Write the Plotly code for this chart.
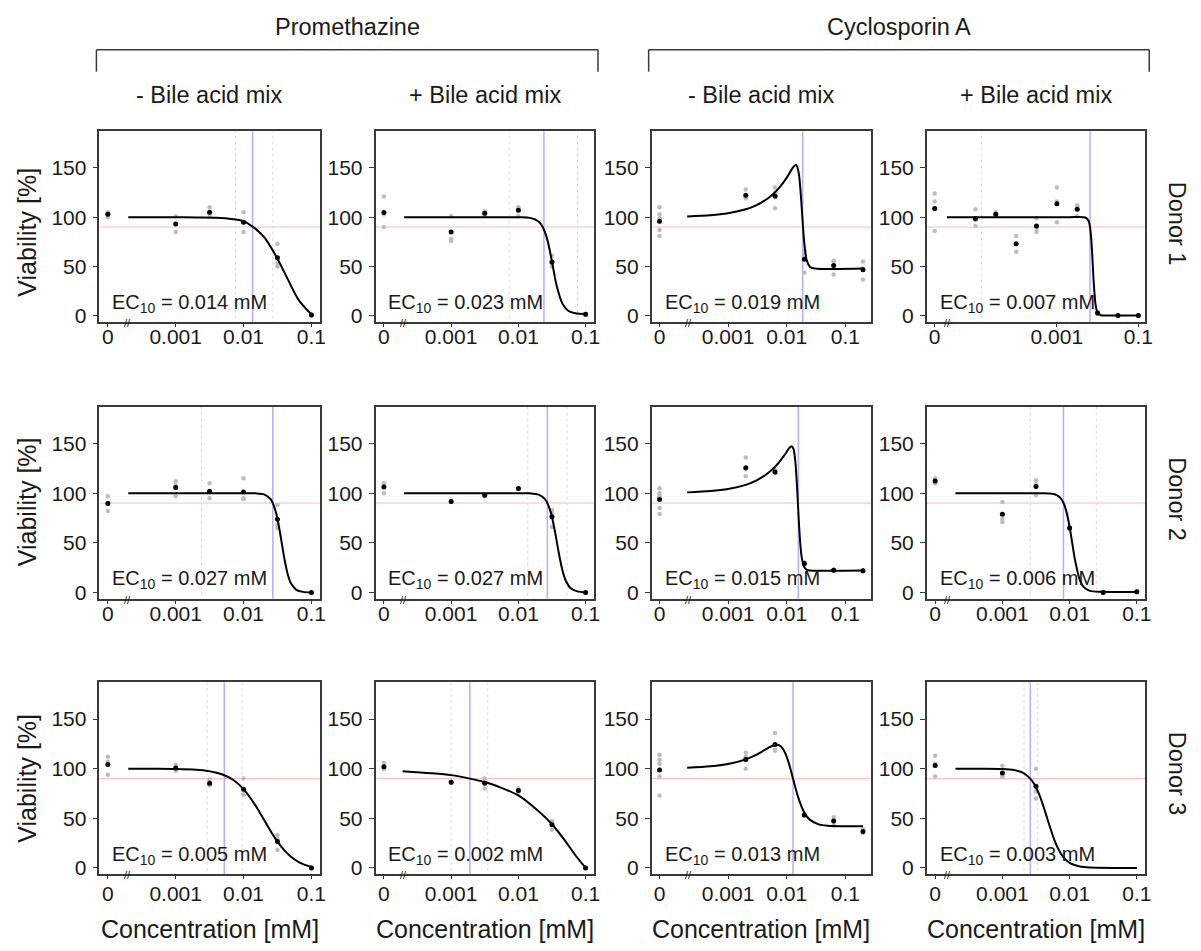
import plotly.graph_objects as go

# the page body adds an 8px margin on every side, so the figure is drawn
# 16px smaller than the window and every target position is shifted by 8px
OFF = 8
W, H = 1201 - 2 * OFF, 951 - 2 * OFF
FONT = "Liberation Sans, Arial, sans-serif"

# ---------------- text ----------------
drugs = ["Promethazine", "Cyclosporin A"]
conditions = ["- Bile acid mix", "+ Bile acid mix", "- Bile acid mix", "+ Bile acid mix"]
donors = ["Donor 1", "Donor 2", "Donor 3"]
y_title = "Viability [%]"
x_title = "Concentration [mM]"
threshold = 90
y_ticks = [0, 50, 100, 150]

# ---------------- Donor 1 ----------------
p11_conc = [0, 0.001, 0.00316, 0.01, 0.0316, 0.1]
p11_mean = [103, 93, 105, 95, 59, 1]
p11_reps = [[105, 100, 104], [101, 85, 93], [110, 104, 101], [105, 85, 95], [73, 53, 50], [1, 0.5, 1.5]]
p11_curve_x = [0.0002, 0.001, 0.002, 0.004, 0.007, 0.01, 0.0136, 0.02, 0.0316, 0.045, 0.065, 0.1]
p11_curve_y = [100, 100, 99.8, 99.5, 98, 96, 90.5, 80, 58, 37, 16, 1.5]
p11_ec10, p11_ci, p11_label = 0.0136, [0.0076, 0.027], "0.014"

p12_conc = [0, 0.001, 0.00316, 0.01, 0.0316, 0.1]
p12_mean = [104.7, 85, 104, 107, 54.7, 1.7]
p12_reps = [[121, 90, 103], [101, 78, 76], [106, 102, 104], [110, 101, 109], [61, 53, 50], [2, 1, 2]]
p12_curve_x = [0.0002, 0.005, 0.01, 0.015, 0.02, 0.023, 0.027, 0.0316, 0.037, 0.045, 0.055, 0.07, 0.1]
p12_curve_y = [100, 100, 99.9, 99.3, 95.7, 90, 77, 55, 31, 12.7, 5.2, 2.7, 2]
p12_ec10, p12_ci, p12_label = 0.024, [0.0073, 0.076], "0.023"

p13_conc = [0, 0.002, 0.00632, 0.02, 0.0632, 0.2]
p13_mean = [96, 122.3, 121.3, 57.3, 51, 46.7]
p13_reps = [[110, 103, 99, 87, 81, 96], [128, 120, 119], [130, 125, 109], [66, 62, 44], [56, 55, 42], [55, 48, 37]]
p13_curve_x = [0.0002, 0.0005, 0.001, 0.002, 0.003, 0.005, 0.007, 0.009, 0.011, 0.013, 0.0145,
               0.016, 0.017, 0.018, 0.019, 0.02, 0.022, 0.025, 0.03, 0.2]
p13_curve_y = [100.8, 102, 104, 108, 112, 120, 128, 136, 144, 151, 153,
               145, 130.5, 110, 89, 73, 56, 49.6, 48.1, 48]
p13_ec10, p13_ci, p13_label = 0.0187, [], "0.019"

p14_conc = [0, 1e-5, 3.16e-5, 1e-4, 3.16e-4, 1e-3, 3.16e-3, 0.01, 0.0316, 0.1]
p14_mean = [108.7, 98.8, 103, 73, 91, 113.7, 108, 3, 0.3, 0.3]
p14_reps = [[124, 116, 86], [108, 91, 97], [105, 102, 102], [81, 65, 73], [99, 85, 89],
            [130, 116, 95], [111, 101, 112], [4, 2, 3], [0, 0.5, 0.5], [0, 0.5, 0.5]]
p14_curve_x = [2e-6, 1e-4, 0.002, 0.005, 0.006, 0.0065, 0.007, 0.0075, 0.008, 0.009, 0.01, 0.012, 0.02, 0.1]
p14_curve_y = [100, 100, 100, 99.7, 96.4, 90, 77, 56.5, 35, 10, 3, 0.7, 0.5, 0.5]
p14_ec10, p14_ci, p14_label = 0.0065, [1.4e-5], "0.007"

# ---------------- Donor 2 ----------------
p21_conc = [0, 0.001, 0.00316, 0.01, 0.0316, 0.1]
p21_mean = [89.7, 105.7, 102, 101.3, 73.7, 0]
p21_reps = [[97, 82, 90], [112, 108, 97], [110, 95, 101], [115, 94, 95], [88, 68, 65], [0, 0, 0]]
p21_curve_x = [0.0002, 0.005, 0.01, 0.015, 0.02, 0.025, 0.027, 0.03, 0.0316, 0.035, 0.04, 0.045, 0.05, 0.06, 0.075, 0.1]
p21_curve_y = [100, 100, 100, 99.85, 98.8, 94.1, 90, 80.7, 74, 57.6, 33.9, 17.8, 9.1, 2.6, 0.5, 0]
p21_ec10, p21_ci, p21_label = 0.027, [0.0024], "0.027"

p22_conc = [0, 0.001, 0.00316, 0.01, 0.0316, 0.1]
p22_mean = [106.3, 91.5, 97.9, 104.6, 76.3, 0]
p22_reps = [[110, 100, 109], [92, 91, 91.5], [98, 97, 99], [105, 104, 105], [83, 66, 80], [0, 0, 0]]
p22_curve_x = [0.0002, 0.005, 0.01, 0.015, 0.02, 0.025, 0.027, 0.03, 0.0316, 0.035, 0.04, 0.045, 0.05, 0.06, 0.075, 0.1]
p22_curve_y = [100, 100, 99.95, 99.8, 98.5, 93.8, 90, 81.7, 75.9, 61.4, 39.4, 22.8, 12.7, 4.1, 1, 0.1]
p22_ec10, p22_ci, p22_label = 0.027, [0.0138, 0.053], "0.027"

p23_conc = [0, 0.002, 0.00632, 0.02, 0.0632, 0.2]
p23_mean = [93.7, 125.7, 121.3, 29, 22.3, 21.7]
p23_reps = [[105, 100, 97, 85, 79, 96], [136, 117, 124], [123, 120, 121], [29, 28, 30], [22, 23, 22], [22, 21, 22]]
p23_curve_x = [0.0002, 0.0005, 0.001, 0.002, 0.003, 0.005, 0.007, 0.009, 0.01, 0.011, 0.012, 0.013,
               0.014, 0.015, 0.0155, 0.016, 0.017, 0.018, 0.02, 0.022, 0.025, 0.2]
p23_curve_y = [100.8, 102.1, 104.2, 108.4, 112.6, 121, 129.4, 137.8, 141.8, 145.4, 147.4, 144.9,
               132.4, 106.2, 90.1, 74.4, 49.7, 35.5, 25.2, 22.8, 22.1, 22]
p23_ec10, p23_ci, p23_label = 0.0158, [], "0.015"

p24_conc = [0, 0.001, 0.00316, 0.01, 0.0316, 0.1]
p24_mean = [112.3, 78.7, 106.7, 65, 0, 0.7]
p24_reps = [[115, 110, 112], [91, 74, 71], [113, 109, 98], [66, 64, 65], [0, 0, 0], [1, 1, 0]]
p24_curve_x = [0.0002, 0.002, 0.004, 0.005, 0.006, 0.007, 0.008, 0.009, 0.01, 0.011, 0.012, 0.014, 0.016, 0.02, 0.03, 0.1]
p24_curve_y = [100, 100, 99.95, 99.7, 98.9, 96.5, 91.1, 80.9, 65.8, 48.6, 33, 13.7, 5.8, 1.5, 0.55, 0.5]
p24_ec10, p24_ci, p24_label = 0.0081, [0.0026, 0.025], "0.006"

# ---------------- Donor 3 ----------------
p31_conc = [0, 0.001, 0.00316, 0.01, 0.0316, 0.1]
p31_mean = [104.3, 100.7, 85.3, 79.3, 26.7, 0]
p31_reps = [[112, 94, 107], [104, 100, 98], [89, 84, 83], [90, 74, 74], [33, 18, 29], [0, 0, 0]]
p31_curve_x = [0.0002, 0.0005, 0.001, 0.002, 0.003, 0.005, 0.007, 0.01, 0.015, 0.02, 0.025, 0.0316,
               0.04, 0.05, 0.065, 0.08, 0.1]
p31_curve_y = [100, 99.9, 99.7, 99, 97.7, 93.9, 88.8, 79.4, 62.9, 48.5, 37.2, 26.4, 17.6, 11.2, 5.9, 3.1, 1]
p31_ec10, p31_ci, p31_label = 0.0052, [0.0029, 0.0095], "0.005"

p32_conc = [0, 0.001, 0.00316, 0.01, 0.0316, 0.1]
p32_mean = [102, 86.3, 85.3, 78, 43.5, 0]
p32_reps = [[106, 100, 100], [87, 86, 86], [90, 86, 80], [80, 78, 76], [45, 47, 38.5], [0, 0, 0]]
p32_curve_x = [0.00019, 0.0005, 0.001, 0.0019, 0.00316, 0.005, 0.01, 0.02, 0.0316, 0.05, 0.07, 0.1]
p32_curve_y = [97.5, 95.5, 93.5, 90, 86.5, 82, 73, 57, 44, 27, 13, 0]
p32_ec10, p32_ci, p32_label = 0.0019, [0.001, 0.0035], "0.002"

p33_conc = [0, 0.002, 0.00632, 0.02, 0.0632, 0.2]
p33_mean = [98.7, 109.3, 124.3, 53.3, 47.3, 36.8]
p33_reps = [[114, 109, 105, 92, 73, 99], [116, 112, 100], [136, 119, 118], [54, 53, 53], [51, 48, 43], [39, 36, 35.5]]
p33_curve_x = [0.0002, 0.0005, 0.001, 0.002, 0.003, 0.004, 0.005, 0.006, 0.007, 0.008, 0.009, 0.01,
               0.011, 0.0128, 0.014, 0.016, 0.02, 0.025, 0.035, 0.05, 0.1, 0.2]
p33_curve_y = [100.9, 102.4, 104.7, 109.4, 113.9, 118.1, 121.5, 123.7, 124.1, 122.3, 118.2, 112,
               104.4, 90, 81.3, 69.6, 55.7, 48.4, 43.9, 42.5, 42, 42]
p33_ec10, p33_ci, p33_label = 0.0128, [], "0.013"

p34_conc = [0, 0.001, 0.00316]
p34_mean = [103.3, 95.7, 82.3]
p34_reps = [[113, 92, 105], [103, 92, 92], [100, 77, 70]]
p34_curve_x = [0.0002, 0.0005, 0.001, 0.0015, 0.002, 0.0026, 0.003, 0.0035, 0.004, 0.005, 0.006, 0.007,
               0.008, 0.01, 0.015, 0.02, 0.05, 0.1]
p34_curve_y = [100, 100, 99.7, 98.6, 96.1, 90, 84, 74.5, 63.7, 43, 27.3, 17.3, 11.2, 5.1, 1.1, 0.4, 0, 0]
p34_ec10, p34_ci, p34_label = 0.0026, [0.0021, 0.00335], "0.003"

# ---------------- axis settings (where "0" sits, log range, ticks) ----------------
std_axis = dict(zero=1e-4, rng=[-4.125, -0.875], ticks=[0.001, 0.01, 0.1], labels=["0.001", "0.01", "0.1"])
cyc_axis = dict(zero=10 ** -4.17, rng=[-4.305, -0.56], ticks=[0.001, 0.01, 0.1], labels=["0.001", "0.01", "0.1"])
wide_axis = dict(zero=1e-6, rng=[-6.195, -0.83], ticks=[0.001, 0.1], labels=["0.001", "0.1"])

panels = [
    (p11_conc, p11_mean, p11_reps, p11_curve_x, p11_curve_y, p11_ec10, p11_ci, p11_label, std_axis),
    (p12_conc, p12_mean, p12_reps, p12_curve_x, p12_curve_y, p12_ec10, p12_ci, p12_label, std_axis),
    (p13_conc, p13_mean, p13_reps, p13_curve_x, p13_curve_y, p13_ec10, p13_ci, p13_label, cyc_axis),
    (p14_conc, p14_mean, p14_reps, p14_curve_x, p14_curve_y, p14_ec10, p14_ci, p14_label, wide_axis),
    (p21_conc, p21_mean, p21_reps, p21_curve_x, p21_curve_y, p21_ec10, p21_ci, p21_label, std_axis),
    (p22_conc, p22_mean, p22_reps, p22_curve_x, p22_curve_y, p22_ec10, p22_ci, p22_label, std_axis),
    (p23_conc, p23_mean, p23_reps, p23_curve_x, p23_curve_y, p23_ec10, p23_ci, p23_label, cyc_axis),
    (p24_conc, p24_mean, p24_reps, p24_curve_x, p24_curve_y, p24_ec10, p24_ci, p24_label, std_axis),
    (p31_conc, p31_mean, p31_reps, p31_curve_x, p31_curve_y, p31_ec10, p31_ci, p31_label, std_axis),
    (p32_conc, p32_mean, p32_reps, p32_curve_x, p32_curve_y, p32_ec10, p32_ci, p32_label, std_axis),
    (p33_conc, p33_mean, p33_reps, p33_curve_x, p33_curve_y, p33_ec10, p33_ci, p33_label, cyc_axis),
    (p34_conc, p34_mean, p34_reps, p34_curve_x, p34_curve_y, p34_ec10, p34_ci, p34_label, std_axis),
]

# ---------------- layout geometry (pixels of the target picture) ----------------
col_px = [(100, 322), (378, 598), (656, 877), (933, 1153)]
row_px = [(132, 324), (409, 602), (686, 879)]
row_label_standoff = [-8, -8, -3]
y_title_center = [233, 504, 782]
donor_center = [225, 502, 778]
y_range = [-6.5, 187]

TXT = "#1a1a1a"
BOX = "#3a3a3a"
RED = "#ffbcbc"
BLUE = "#b0b0ff"
CI_GRAY = "#dadada"
REP_GRAY = "#bdbdbd"


def fx(px):
    return (px - OFF) / W


def fy(py):
    return 1 - (py - OFF) / H


fig = go.Figure()
layout = {}
annotations = []
shapes = []


def note(x, y, text, size, angle=0):
    annotations.append(dict(x=fx(x), y=fy(y), xref="paper", yref="paper",
                            xanchor="center", yanchor="middle", text=text,
                            textangle=angle, showarrow=False,
                            font=dict(family=FONT, size=size, color=TXT)))


for k, (conc, mean, reps, cx, cy, ec, ci, lab, axs) in enumerate(panels):
    r, c = divmod(k, 4)
    n = k + 1
    xa = "x" if n == 1 else f"x{n}"
    ya = "y" if n == 1 else f"y{n}"
    xs = [axs["zero"] if v == 0 else v for v in conc]
    common = dict(xaxis=xa, yaxis=ya, showlegend=False, hoverinfo="skip")

    fig.add_trace(go.Scatter(x=[1e-9, 10], y=[threshold, threshold], mode="lines",
                             line=dict(color=RED, width=1), **common))
    for v in ci:
        fig.add_trace(go.Scatter(x=[v, v], y=[-100, 300], mode="lines",
                                 line=dict(color=CI_GRAY, width=1, dash="dot"), **common))
    fig.add_trace(go.Scatter(x=[ec, ec], y=[-100, 300], mode="lines",
                             line=dict(color=BLUE, width=1.5), **common))
    rx, ry = [], []
    for xv, rv in zip(xs, reps):
        rx += [xv] * len(rv)
        ry += rv
    fig.add_trace(go.Scatter(x=rx, y=ry, mode="markers",
                             marker=dict(color=REP_GRAY, size=4.5), **common))
    fig.add_trace(go.Scatter(x=cx, y=cy, mode="lines",
                             line=dict(color="black", width=2, shape="spline", smoothing=0.8), **common))
    fig.add_trace(go.Scatter(x=xs, y=mean, mode="markers",
                             marker=dict(color="black", size=5), **common))

    x0, x1 = col_px[c]
    y0, y1 = row_px[r]
    key = "" if n == 1 else str(n)
    layout[f"xaxis{key}"] = dict(
        domain=[fx(x0), fx(x1)], anchor=ya, type="log", range=axs["rng"],
        tickvals=[axs["zero"]] + axs["ticks"], ticktext=["0"] + axs["labels"],
        showline=True, mirror=True, linecolor=BOX, linewidth=1.5,
        ticks="outside", ticklen=3, tickcolor=BOX, tickwidth=1,
        ticklabelstandoff=row_label_standoff[r],
        showgrid=False, zeroline=False, fixedrange=True,
        tickfont=dict(family=FONT, size=21, color=TXT),
    )
    layout[f"yaxis{key}"] = dict(
        domain=[fy(y1), fy(y0)], anchor=xa, range=y_range, tickvals=y_ticks,
        showline=True, mirror=True, linecolor=BOX, linewidth=1.5,
        ticks="outside", ticklen=5, tickcolor=BOX, tickwidth=1, ticklabelstandoff=2,
        showgrid=False, zeroline=False, fixedrange=True,
        tickfont=dict(family=FONT, size=21, color=TXT),
    )
    # EC10 label
    annotations.append(dict(
        x=fx(x0 + 11), y=fy(y1 - 19), xref="paper", yref="paper", xanchor="left", yanchor="middle",
        text=f"EC<sub>10</sub> = {lab} mM", showarrow=False,
        font=dict(family=FONT, size=20, color=TXT)))
    # axis break mark
    brk_px = {0: x0 + 28, 1: x0 + 28, 2: x0 + 37, 3: x0 + 21}[c]
    note(brk_px, y1 + 1, "//", 11)

# row / column labels
for r in range(3):
    note(27, y_title_center[r], y_title, 25, -90)
    note(1185, donor_center[r], donors[r], 23.5, 90)
for c, (x0, x1) in enumerate(col_px):
    note((x0 + x1) / 2, 95, conditions[c], 23.5)
    note((x0 + x1) / 2, 934, x_title, 25)

bracket_px = [(97, 602), (653, 1157)]
for d, (bx0, bx1) in enumerate(bracket_px):
    note((bx0 + bx1) / 2, 27, drugs[d], 23.5)
    for (ax0, ay0, ax1, ay1) in [(bx0, 50, bx1, 50), (bx0, 50, bx0, 72), (bx1, 50, bx1, 72)]:
        shapes.append(dict(type="line", xref="paper", yref="paper",
                           x0=fx(ax0), y0=fy(ay0), x1=fx(ax1), y1=fy(ay1),
                           line=dict(color=BOX, width=1.5)))

fig.update_layout(
    width=W, height=H, margin=dict(l=0, r=0, t=0, b=0),
    paper_bgcolor="white", plot_bgcolor="white",
    font=dict(family=FONT, color=TXT),
    annotations=annotations, shapes=shapes, **layout,
)

fig.write_html("out.html")
